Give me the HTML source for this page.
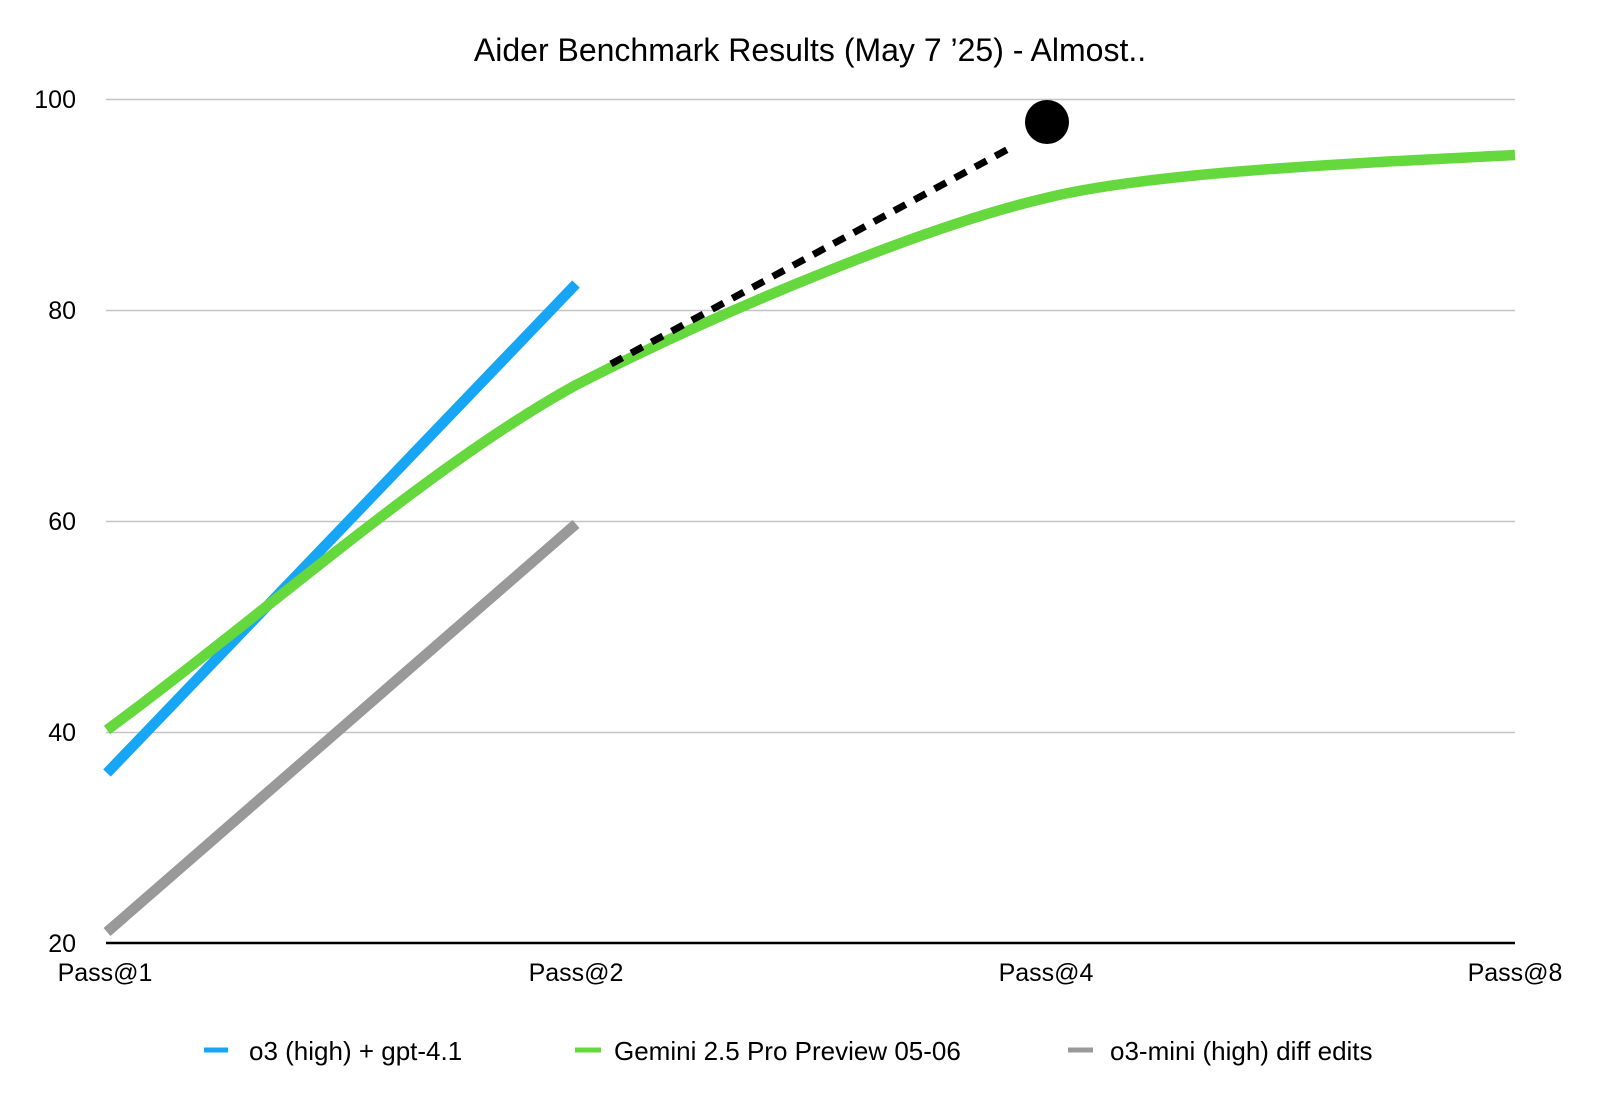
<!DOCTYPE html>
<html><head><meta charset="utf-8"><style>
body{margin:0;background:#fff;}
svg text{font-family:"Liberation Sans",Arial,sans-serif;fill:#000;}
</style></head><body>
<svg width="1620" height="1114" viewBox="0 0 1620 1114" xmlns="http://www.w3.org/2000/svg">
<rect width="1620" height="1114" fill="#fff"/>
<text x="810" y="61" font-size="32" text-anchor="middle">Aider Benchmark Results (May 7 ’25) - Almost..</text>
<g stroke="#c4c4c4" stroke-width="1.5">
<line x1="106" y1="99.5" x2="1515" y2="99.5"/>
<line x1="106" y1="310.5" x2="1515" y2="310.5"/>
<line x1="106" y1="521.5" x2="1515" y2="521.5"/>
<line x1="106" y1="732.5" x2="1515" y2="732.5"/>
</g>
<line x1="106" y1="943" x2="1515" y2="943" stroke="#000" stroke-width="2.5"/>
<g font-size="25" text-anchor="end">
<text x="76" y="108">100</text>
<text x="76" y="319">80</text>
<text x="76" y="530">60</text>
<text x="76" y="741">40</text>
<text x="76" y="952">20</text>
</g>
<g font-size="25" text-anchor="middle">
<text x="105" y="981">Pass@1</text>
<text x="576" y="981">Pass@2</text>
<text x="1046" y="981">Pass@4</text>
<text x="1515" y="981">Pass@8</text>
</g>
<line x1="107" y1="932" x2="576" y2="524" stroke="#999" stroke-width="10.5"/>
<line x1="107" y1="773" x2="576" y2="284" stroke="#17a5f5" stroke-width="10.5"/>
<path d="M107,730 C263,615 430,465 576,385 C732.5,305 930,225 1046,198 C1150,172 1359,163 1515,155" fill="none" stroke="#64d83c" stroke-width="10.5"/>
<line x1="611" y1="364" x2="1012" y2="147" stroke="#000" stroke-width="7" stroke-dasharray="13,10"/>
<circle cx="1047" cy="122" r="22" fill="#000"/>
<g stroke-width="5">
<line x1="204" y1="1050" x2="228" y2="1050" stroke="#17a5f5"/>
<line x1="575" y1="1050" x2="601" y2="1050" stroke="#64d83c"/>
<line x1="1068" y1="1050" x2="1093" y2="1050" stroke="#999"/>
</g>
<g font-size="26">
<text x="249" y="1060">o3 (high) + gpt-4.1</text>
<text x="614" y="1060">Gemini 2.5 Pro Preview 05-06</text>
<text x="1110" y="1060">o3-mini (high) diff edits</text>
</g>
</svg>
</body></html>
